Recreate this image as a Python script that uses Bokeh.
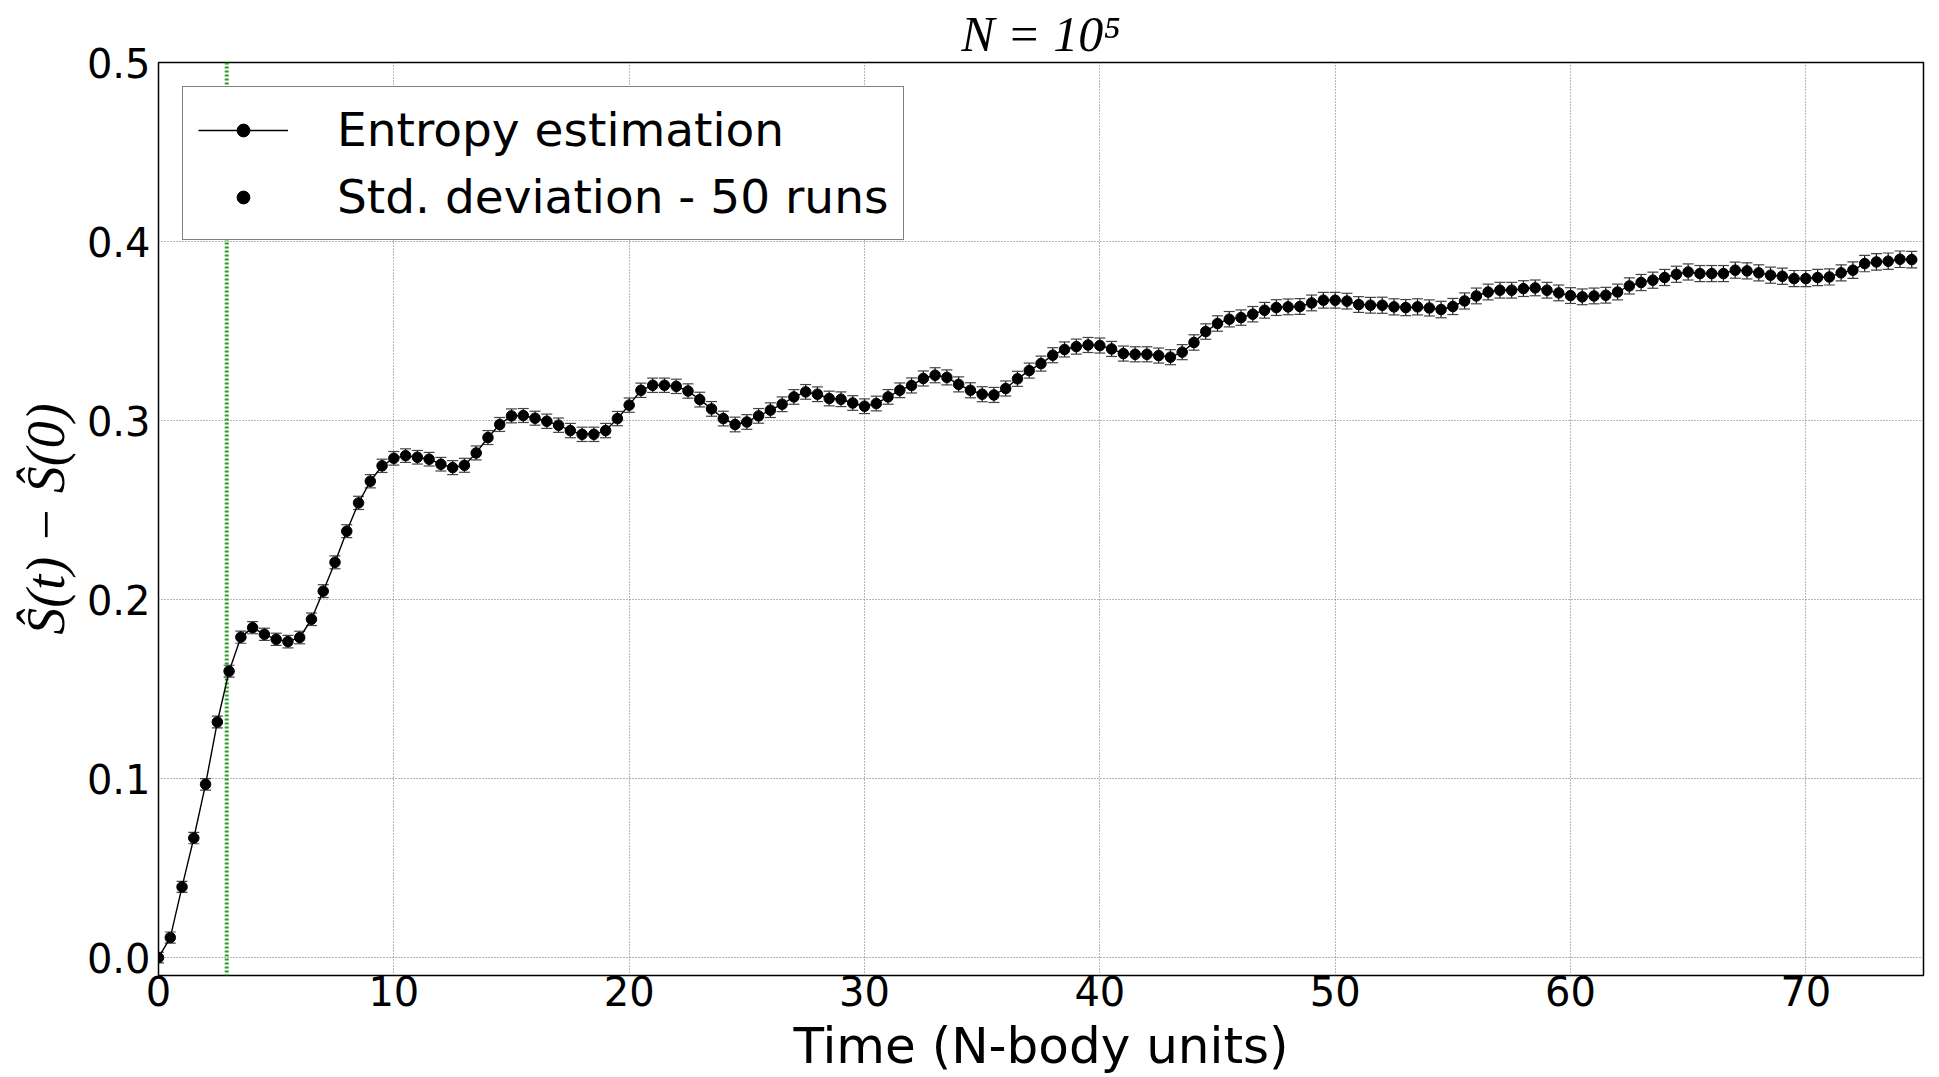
import numpy as np
from bokeh.plotting import figure
from bokeh.models import (ColumnDataSource, Whisker, TeeHead, Span, Legend,
                          LegendItem, FixedTicker, PrintfTickFormatter, Range1d, Title)
from bokeh.embed import file_html
from bokeh.resources import INLINE

# ---------------- data ----------------
time = np.arange(0, 75, 0.5)          # sampling every 0.5 N-body time units

entropy = [
    0.0000, 0.0112, 0.0395, 0.0668, 0.0968, 0.1316, 0.1600, 0.1790, 0.1843, 0.1806,
    0.1778, 0.1765, 0.1788, 0.1890, 0.2047, 0.2208, 0.2382, 0.2540, 0.2661, 0.2747,
    0.2789, 0.2804, 0.2795, 0.2784, 0.2756, 0.2737, 0.2750, 0.2819, 0.2905, 0.2978,
    0.3026, 0.3028, 0.3013, 0.2996, 0.2974, 0.2944, 0.2923, 0.2923, 0.2944, 0.3011,
    0.3086, 0.3169, 0.3197, 0.3197, 0.3191, 0.3165, 0.3117, 0.3065, 0.3011, 0.2978,
    0.2992, 0.3026, 0.3058, 0.3091, 0.3132, 0.3160, 0.3147, 0.3123, 0.3119, 0.3098,
    0.3080, 0.3095, 0.3132, 0.3169, 0.3196, 0.3235, 0.3253, 0.3241, 0.3202, 0.3169,
    0.3147, 0.3143, 0.3179, 0.3233, 0.3279, 0.3318, 0.3365, 0.3397, 0.3413, 0.3422,
    0.3419, 0.3400, 0.3374, 0.3370, 0.3370, 0.3363, 0.3354, 0.3382, 0.3436, 0.3497,
    0.3542, 0.3566, 0.3575, 0.3594, 0.3616, 0.3631, 0.3635, 0.3637, 0.3657, 0.3672,
    0.3672, 0.3667, 0.3648, 0.3644, 0.3644, 0.3635, 0.3631, 0.3635, 0.3629, 0.3620,
    0.3637, 0.3668, 0.3696, 0.3718, 0.3728, 0.3728, 0.3737, 0.3741, 0.3728, 0.3713,
    0.3698, 0.3691, 0.3696, 0.3700, 0.3718, 0.3752, 0.3771, 0.3784, 0.3799, 0.3817,
    0.3830, 0.3821, 0.3821, 0.3821, 0.3840, 0.3836, 0.3825, 0.3812, 0.3806, 0.3793,
    0.3793, 0.3799, 0.3802, 0.3825, 0.3840, 0.3877, 0.3886, 0.3890, 0.3901, 0.3899,
]

std_dev = [
    0.0030, 0.0031, 0.0031, 0.0032, 0.0032, 0.0033, 0.0033, 0.0034, 0.0034, 0.0034,
    0.0034, 0.0035, 0.0035, 0.0035, 0.0036, 0.0036, 0.0036, 0.0037, 0.0037, 0.0037,
    0.0038, 0.0038, 0.0038, 0.0038, 0.0038, 0.0039, 0.0039, 0.0039, 0.0039, 0.0039,
    0.0039, 0.0039, 0.0039, 0.0040, 0.0040, 0.0040, 0.0040, 0.0040, 0.0040, 0.0040,
    0.0040, 0.0040, 0.0040, 0.0040, 0.0040, 0.0040, 0.0041, 0.0041, 0.0041, 0.0041,
    0.0041, 0.0041, 0.0041, 0.0041, 0.0041, 0.0041, 0.0041, 0.0041, 0.0041, 0.0041,
    0.0041, 0.0041, 0.0041, 0.0041, 0.0042, 0.0042, 0.0042, 0.0042, 0.0042, 0.0042,
    0.0042, 0.0042, 0.0042, 0.0042, 0.0042, 0.0042, 0.0042, 0.0042, 0.0042, 0.0042,
    0.0042, 0.0042, 0.0042, 0.0042, 0.0042, 0.0042, 0.0042, 0.0042, 0.0043, 0.0043,
    0.0043, 0.0043, 0.0043, 0.0043, 0.0044, 0.0044, 0.0044, 0.0044, 0.0044, 0.0044,
    0.0044, 0.0044, 0.0044, 0.0044, 0.0045, 0.0045, 0.0045, 0.0045, 0.0045, 0.0046,
    0.0045, 0.0045, 0.0044, 0.0044, 0.0044, 0.0044, 0.0044, 0.0044, 0.0044, 0.0044,
    0.0044, 0.0044, 0.0044, 0.0044, 0.0044, 0.0045, 0.0045, 0.0045, 0.0045, 0.0045,
    0.0045, 0.0045, 0.0045, 0.0045, 0.0045, 0.0045, 0.0045, 0.0045, 0.0045, 0.0045,
    0.0045, 0.0045, 0.0045, 0.0045, 0.0046, 0.0046, 0.0046, 0.0046, 0.0046, 0.0046,
]

x_ticks = [0, 10, 20, 30, 40, 50, 60, 70]
y_ticks = [0.0, 0.1, 0.2, 0.3, 0.4, 0.5]
relax_time = 2.9                       # green dotted vertical marker

title_text = "N = 10⁵"
line_label = "Entropy estimation"
err_label = "Std. deviation - 50 runs"
x_label = "Time (N-body units)"
y_label = "Ŝ(t) − Ŝ(0)"

# ---------------- figure ----------------
ent = np.array(entropy)
sd = np.array(std_dev)
src = ColumnDataSource(dict(time=time, entropy=ent, lower=ent - sd, upper=ent + sd))

p = figure(width=1939, height=1077, title=None,
           x_range=Range1d(0, 75), y_range=Range1d(-0.01, 0.5),
           output_backend="svg", toolbar_location=None,
           min_border_left=158, min_border_right=16,
           min_border_top=62, min_border_bottom=101)

p.add_layout(Title(text=title_text, align="center", text_font="Liberation Serif",
                   text_font_style="italic", text_font_size="50px",
                   text_color="black", standoff=2), "above")

p.background_fill_color = "white"
p.border_fill_color = "white"
p.outline_line_color = "black"
p.outline_line_width = 1.5

# grid
p.grid.grid_line_color = "#6e6e6e"
p.grid.grid_line_dash = "1 2"
p.grid.grid_line_width = 1
p.xgrid.ticker = FixedTicker(ticks=x_ticks)
p.ygrid.ticker = FixedTicker(ticks=y_ticks)

# axes
for ax in (p.xaxis[0], p.yaxis[0]):
    ax.axis_line_color = None
    ax.major_tick_line_color = None
    ax.minor_tick_line_color = None
    ax.major_tick_out = 0
    ax.major_tick_in = 0
    ax.major_label_text_font = "DejaVu Sans"
    ax.major_label_text_font_size = "40px"
    ax.major_label_text_color = "black"
    ax.axis_label_text_color = "black"

p.xaxis.major_label_standoff = 0
p.yaxis.major_label_standoff = 8

p.xaxis.ticker = FixedTicker(ticks=x_ticks)
p.xaxis.formatter = PrintfTickFormatter(format="%d")
p.yaxis.ticker = FixedTicker(ticks=y_ticks)
p.yaxis.formatter = PrintfTickFormatter(format="%.1f")

p.xaxis.axis_label = x_label
p.xaxis.axis_label_text_font = "DejaVu Sans"
p.xaxis.axis_label_text_font_style = "normal"
p.xaxis.axis_label_text_font_size = "50px"
p.xaxis.axis_label_standoff = 8

p.yaxis.axis_label = y_label
p.yaxis.axis_label_text_font = "Liberation Serif"
p.yaxis.axis_label_text_font_style = "italic"
p.yaxis.axis_label_text_font_size = "54px"
p.yaxis.axis_label_standoff = 8

# green dotted vertical line
span = Span(location=relax_time, dimension="height", line_color="#22a022",
            line_width=4, line_dash="2 2", level="underlay")
p.add_layout(span)

# error bars
whisker = Whisker(source=src, base="time", lower="lower", upper="upper",
                  dimension="height", line_color="#111111", line_width=1.2,
                  upper_head=TeeHead(size=11, line_color="#444444", line_width=1.2),
                  lower_head=TeeHead(size=11, line_color="#444444", line_width=1.2))
p.add_layout(whisker)

line_r = p.line("time", "entropy", source=src, line_color="black", line_width=1.4)
pts_r = p.scatter("time", "entropy", source=src, size=10.5, color="black")

# legend-only glyph (hidden in the plot) for the error-bar entry
leg_pt = p.scatter("time", "entropy", source=src, marker="circle", size=10,
                   color="black", visible=False)

legend = Legend(items=[LegendItem(label=line_label, renderers=[line_r, pts_r]),
                       LegendItem(label=err_label, renderers=[leg_pt])],
                location="top_left", margin=24, padding=15, spacing=12,
                glyph_width=90, glyph_height=32, label_height=48,
                label_standoff=49, label_text_font="DejaVu Sans",
                label_text_font_size="47px", label_text_color="black",
                border_line_color="black", border_line_width=1.5,
                background_fill_color="white", background_fill_alpha=1,
                click_policy="none")
p.add_layout(legend)

open("out.html", "w").write(file_html(p, INLINE))
